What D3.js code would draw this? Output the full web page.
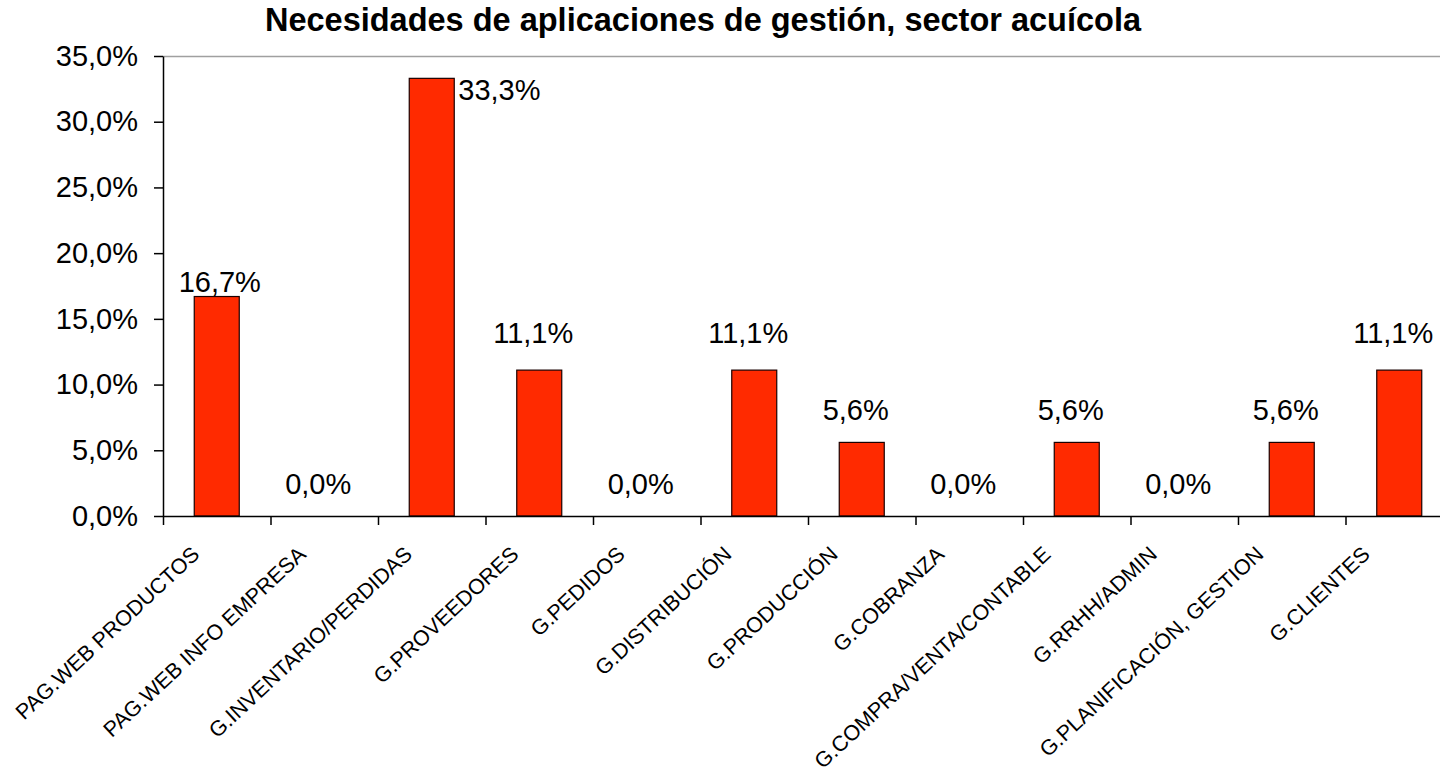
<!DOCTYPE html>
<html>
<head>
<meta charset="utf-8">
<script src="https://cdn.jsdelivr.net/npm/d3@7"></script>
<style>
  body { margin: 0; background: #fff; }
  svg { display: block; font-family: "Liberation Sans", Arial, sans-serif; }
</style>
</head>
<body>
<svg width="1440" height="771"></svg>
<script>
// categories and values (share of respondents)
var categories = ["PAG.WEB PRODUCTOS", "PAG.WEB INFO EMPRESA", "G.INVENTARIO/PERDIDAS",
    "G.PROVEEDORES", "G.PEDIDOS", "G.DISTRIBUCIÓN", "G.PRODUCCIÓN", "G.COBRANZA",
    "G.COMPRA/VENTA/CONTABLE", "G.RRHH/ADMIN", "G.PLANIFICACIÓN, GESTION", "G.CLIENTES"];
var values = [0.167, 0.0, 0.333, 0.111, 0.0, 0.111, 0.056, 0.0, 0.056, 0.0, 0.056, 0.111];
var yTicks = [0, 0.05, 0.10, 0.15, 0.20, 0.25, 0.30, 0.35];
var title = "Necesidades de aplicaciones de gestión, sector acuícola";

var svg = d3.select("svg");

// plot area (runs off the right edge like the original)
var plotLeft = 163, plotTop = 56, plotBottom = 516, step = 107.5;
var plotRight = plotLeft + categories.length * step;

var esLocale = d3.formatLocale({decimal: ",", thousands: ".", grouping: [3], currency: ["", "€"]});
var pct = esLocale.format(".1%");

var y = d3.scaleLinear().domain([0, 0.35]).range([plotBottom, plotTop]);
var x = d3.scaleBand().domain(categories).range([plotLeft, plotRight])
    .paddingInner(1 - 45 / step).paddingOuter((1 - 45 / step) / 2);
var xb = d3.scaleLinear().domain([0, categories.length]).range([plotLeft, plotRight]);

// title
svg.append("text")
    .attr("x", 703).attr("y", 31)
    .attr("text-anchor", "middle")
    .style("font-size", "32.5px").style("font-weight", "bold")
    .text(title);

// top border of plot area
svg.append("line")
    .attr("x1", plotLeft).attr("x2", 1440)
    .attr("y1", plotTop + 0.5).attr("y2", plotTop + 0.5)
    .attr("stroke", "#a0a0a0").attr("stroke-width", 1.5);

// bars
svg.append("g").selectAll("rect")
    .data(values)
    .enter().append("rect")
    .attr("x", function(d, i) { return x(categories[i]); })
    .attr("y", function(d) { return y(d); })
    .attr("width", x.bandwidth())
    .attr("height", function(d) { return plotBottom - y(d); })
    .attr("fill", "#ff2a00")
    .attr("stroke", "#1a0000")
    .attr("stroke-width", 1.2);

// y axis
var yAxis = svg.append("g")
    .attr("transform", "translate(" + plotLeft + ",0)")
    .call(d3.axisLeft(y).tickValues(yTicks).tickFormat(pct).tickSize(9).tickSizeOuter(0).tickPadding(16));
yAxis.select(".domain").attr("stroke", "#000").attr("stroke-width", 1.5);
yAxis.selectAll(".tick line").attr("stroke", "#000").attr("stroke-width", 1.5);
yAxis.selectAll("text")
    .style("font-family", "\"Liberation Sans\", Arial, sans-serif")
    .style("font-size", "29px").attr("fill", "#000");

// x axis: category boundary ticks
var xAxis = svg.append("g")
    .attr("transform", "translate(0," + plotBottom + ")")
    .call(d3.axisBottom(xb).tickValues(d3.range(0, categories.length + 1)).tickFormat("").tickSize(9).tickSizeOuter(0));
xAxis.select(".domain").attr("stroke", "#000").attr("stroke-width", 1.5);
xAxis.selectAll(".tick line").attr("stroke", "#000").attr("stroke-width", 1.5);

// rotated category labels
svg.append("g").selectAll("text")
    .data(categories)
    .enter().append("text")
    .attr("transform", function(d, i) {
        var cx = x(d) + x.bandwidth() / 2 - 16 - i * 1.1;
        return "translate(" + cx + "," + 556 + ") rotate(-43)";
    })
    .attr("text-anchor", "end")
    .style("font-size", "21.5px")
    .text(function(d) { return d; });

// value labels (Excel-like placement: tallest bar has its label to the right)
var maxV = d3.max(values);
var labelGap = {"PAG.WEB PRODUCTOS": 5, "G.PROVEEDORES": 27, "G.DISTRIBUCIÓN": 27, "G.CLIENTES": 27};
var labelShift = {"PAG.WEB PRODUCTOS": 9};
svg.append("g").selectAll("text")
    .data(values)
    .enter().append("text")
    .attr("x", function(d, i) {
        var c = categories[i];
        if (d === maxV) return x(c) + x.bandwidth() + 4;
        return x(c) + x.bandwidth() / 2 - 6 + (labelShift[c] || 0);
    })
    .attr("y", function(d, i) {
        var c = categories[i];
        if (d === maxV) return y(d) + 22;
        return y(d) - (labelGap[c] || 22);
    })
    .attr("text-anchor", function(d) { return d === maxV ? "start" : "middle"; })
    .style("font-size", "29px")
    .text(function(d) { return pct(d); });
</script>
</body>
</html>
